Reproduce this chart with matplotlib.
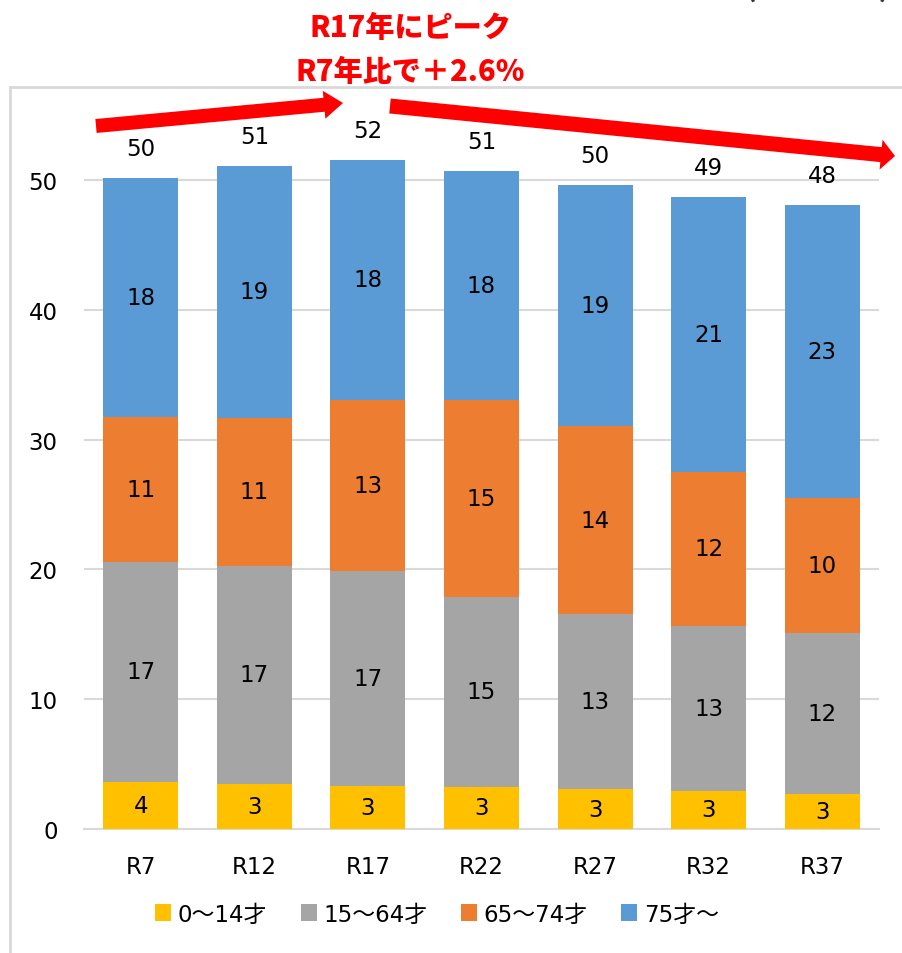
import matplotlib
matplotlib.use("Agg")
import matplotlib.pyplot as plt
from matplotlib.patches import FancyArrow, Patch
import numpy as np

plt.rcParams['font.family'] = ['DejaVu Sans', 'Noto Sans CJK JP']

categories = ["R7", "R12", "R17", "R22", "R27", "R32", "R37"]
series_names = ["0～14才", "15～64才", "65～74才", "75才～"]
age_0_14 = [3.62, 3.47, 3.31, 3.24, 3.08, 2.93, 2.70]
age_15_64 = [16.95, 16.80, 16.57, 14.64, 13.48, 12.71, 12.40]
age_65_74 = [11.17, 11.40, 13.17, 15.18, 14.45, 11.86, 10.40]
age_75 = [18.40, 19.40, 18.49, 17.60, 18.56, 21.19, 22.57]
colors = ["#FFC000", "#A5A5A5", "#ED7D31", "#5B9BD5"]
yticks = [0, 10, 20, 30, 40, 50]
title_lines = ["R17年にピーク", "R7年比で＋2.6%"]

W, H = 903, 954
FS = 16.5
fig = plt.figure(figsize=(W / 100, H / 100), dpi=100)

ax = fig.add_axes([84 / W, 1 - 830 / H, (879 - 84) / W, (830 - 103) / H])
x = np.arange(len(categories))
bottom = np.zeros(len(categories))
for vals, col in zip([age_0_14, age_15_64, age_65_74, age_75], colors):
    vals = np.array(vals)
    ax.bar(x, vals, width=0.66, bottom=bottom, color=col, zorder=3)
    for xi, b, v in zip(x, bottom, vals):
        ax.text(xi, b + v / 2, f"{int(round(v))}", ha='center', va='center',
                fontsize=FS, color='black', zorder=4)
    bottom = bottom + vals

for xi, tot in zip(x, bottom):
    ax.annotate(f"{int(round(tot))}", (xi, tot), xytext=(0, 21.5),
                textcoords='offset points', ha='center', va='center',
                fontsize=FS, color='black')

ax.set_xlim(-0.5, len(categories) - 0.5)
ax.set_ylim(0, 56)
ax.set_yticks(yticks)
ax.set_xticks(x)
ax.set_xticklabels(categories)
ax.yaxis.grid(True, color='#D9D9D9', linewidth=1.5, zorder=0)
ax.set_axisbelow(True)
for s in ['top', 'right', 'left']:
    ax.spines[s].set_visible(False)
ax.spines['bottom'].set_color('#D9D9D9')
ax.spines['bottom'].set_linewidth(1.5)
ax.tick_params(axis='both', length=0, labelsize=FS)
ax.tick_params(axis='x', pad=19)
ax.tick_params(axis='y', pad=19)

handles = [Patch(facecolor=c, edgecolor='none') for c in colors]
fig.legend(handles, series_names, loc='center', bbox_to_anchor=(437 / W, 1 - 915 / H),
           ncol=4, frameon=False, fontsize=FS, handlelength=0.7, handleheight=0.7,
           handletextpad=0.3, columnspacing=1.45)

# overlay in pixel coordinates for annotations
ov = fig.add_axes([0, 0, 1, 1], zorder=10)
ov.set_xlim(0, W)
ov.set_ylim(H, 0)
ov.axis('off')
ov.patch.set_alpha(0)

# chart frame
ov.plot([10, 10], [H, 88], color='#D9D9D9', lw=2)
ov.plot([10, W], [88, 88], color='#D9D9D9', lw=2)

# arrows
def arrow(x0, y0, x1, y1, w, hw, hl):
    dx, dy = x1 - x0, y1 - y0
    ov.add_patch(FancyArrow(x0, y0, dx, dy, width=w, head_width=hw, head_length=hl,
                            length_includes_head=True, color='#FF0000', lw=0))

arrow(96, 127, 343, 104, 14, 28, 19)
arrow(390, 107, 895, 157, 15, 30, 14)

for yy, line in zip([28, 72], title_lines):
    ov.text(410, yy, line, ha='center', va='center', fontsize=21,
            fontweight='black', color='#FF0000', family=['Noto Sans CJK JP'])

ov.text(818, -4, "(　万人　)", ha='center', va='baseline', fontsize=22,
        color='#333333', fontweight='bold', family=['Noto Sans CJK JP'])

fig.savefig("out.png", dpi=100)
